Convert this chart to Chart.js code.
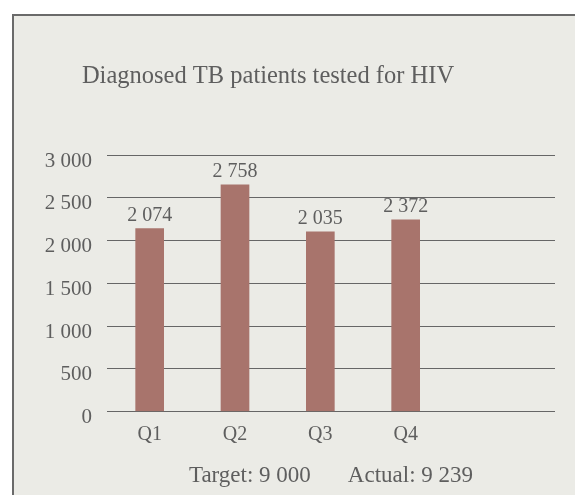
<!DOCTYPE html>
<html><head><meta charset="utf-8">
<script src="https://cdn.jsdelivr.net/npm/chart.js@4"></script>
<style>
html,body{margin:0;padding:0;background:#fff;overflow:hidden;width:575px;height:495px;}
#frame{position:absolute;left:12px;top:14px;width:700px;height:700px;border-left:2px solid #6a6a6a;border-top:2px solid #6a6a6a;background:#ebebe6;}
#wrap{position:absolute;left:0;top:0;width:575px;height:495px;}
</style></head><body>
<div id="frame"></div>
<div id="wrap"><canvas id="c" width="575" height="495"></canvas></div>
<script>
// ---- data ----
const categories = ['Q1', 'Q2', 'Q3', 'Q4'];
const barValues = [2138, 2652, 2102, 2243];      // bar heights as drawn
const labelValues = [2074, 2758, 2035, 2372];    // printed value labels
const yTickValues = [0, 500, 1000, 1500, 2000, 2500, 3000];
const titleText = 'Diagnosed TB patients tested for HIV';
const footerLabels = ['Target', 'Actual'];
const footerValues = [9000, 9239];

const SERIF = '"Liberation Serif", "DejaVu Serif", serif';
const TEXT = '#5e5e5e';
const fmt = n => String(n).replace(/\B(?=(\d{3})+(?!\d))/g, ' ');

const textPlugin = {
  id: 'texts',
  afterDraw(chart) {
    const ctx = chart.ctx;
    const area = chart.chartArea;
    ctx.save();
    ctx.fillStyle = TEXT;
    ctx.textBaseline = 'alphabetic';
    // title
    ctx.font = '24.5px ' + SERIF;
    ctx.textAlign = 'center';
    ctx.fillText(titleText, 268, 83);
    // value labels above bars
    ctx.font = '20px ' + SERIF;
    const meta = chart.getDatasetMeta(0);
    meta.data.forEach((bar, i) => {
      ctx.fillText(fmt(labelValues[i]), bar.x, bar.y - 8);
    });
    // footer
    ctx.font = '23px ' + SERIF;
    const parts = footerLabels.map((l, i) => l + ': ' + fmt(footerValues[i]));
    const gap = 37;
    const widths = parts.map(p => ctx.measureText(p).width);
    const total = widths.reduce((a, b) => a + b, 0) + gap * (parts.length - 1);
    let x = (area.left + area.right) / 2 - total / 2;
    ctx.textAlign = 'left';
    parts.forEach((p, i) => {
      ctx.fillText(p, x, 482);
      x += widths[i] + gap;
    });
    ctx.restore();
  }
};

new Chart(document.getElementById('c'), {
  type: 'bar',
  data: {
    datasets: [{
      data: categories.map((c, i) => ({ x: i, y: barValues[i] })),
      backgroundColor: '#a8746c',
      borderWidth: 0,
      barThickness: 28
    }]
  },
  options: {
    responsive: false,
    animation: false,
    events: [],
    layout: { padding: { left: 0, right: 20, top: 155, bottom: 0 } },
    plugins: { legend: { display: false }, title: { display: false }, tooltip: { enabled: false } },
    scales: {
      x: {
        type: 'linear',
        offset: false,
        min: -0.5,
        max: 4.75,
        afterBuildTicks: s => { s.ticks = categories.map((c, i) => ({ value: i })); },
        afterFit: s => { s.height = 495 - 155 - 256.5; },
        grid: { display: false },
        border: { display: false },
        ticks: {
          callback: v => categories[v] ?? '',
          color: TEXT,
          font: { family: SERIF, size: 20 },
          padding: 3,
          maxRotation: 0,
          autoSkip: false
        }
      },
      y: {
        min: 0,
        max: 3000,
        afterBuildTicks: s => { s.ticks = yTickValues.map(v => ({ value: v })); },
        afterFit: s => { s.width = 107; },
        grid: { color: '#666666', lineWidth: 1, drawTicks: false },
        border: { display: false },
        ticks: {
          callback: v => fmt(v),
          color: TEXT,
          font: { family: SERIF, size: 21 },
          padding: 15,
          labelOffset: 6
        }
      }
    }
  },
  plugins: [textPlugin]
});
</script>
</body></html>
